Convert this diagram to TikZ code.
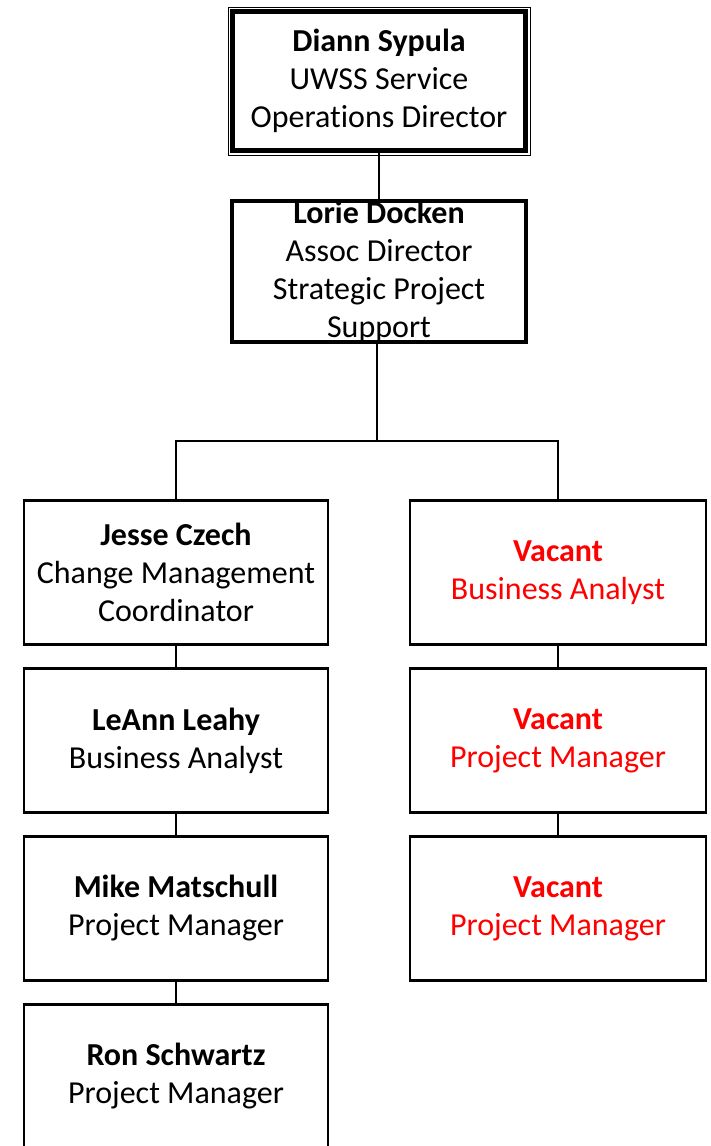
\documentclass[tikz,border=0pt]{standalone}
\usepackage{fontspec}
\setmainfont{Carlito}[Ligatures=NoCommon]
\usepackage{tikz}
\usetikzlibrary{calc}
\usetikzlibrary{positioning}
\definecolor{vacantred}{RGB}{255,0,0}
\newcommand{\who}[1]{\textbf{#1}}

\begin{document}
\begin{tikzpicture}[x=1pt,y=-1pt,
		person/.style={rectangle,draw,align=center,inner sep=0pt,outer sep=0pt,
			font=\fontsize{32}{38}\selectfont,line width=2.4pt},
		leftbox/.style={person,minimum width=304,minimum height=144},
		rightbox/.style={person,minimum width=296,minimum height=144},
		vacant/.style={rightbox,text=vacantred},
		link/.style={line width=1.8pt}]
				\useasboundingbox (0,0) rectangle (710,1146);
				\path 
				(379,81) node(diann) [person,line width=5pt,minimum width=293,minimum height=139] {\who{Diann Sypula}\\UWSS Service\\Operations Director}
				(379,271.5) node(lorie) [person,line width=4pt,minimum width=294,minimum height=140] {\who{Lorie Docken}\\Assoc Director\\Strategic Project\\Support}
				(176,572.5) node(jesse) [leftbox] {\who{Jesse Czech}\\Change Management\\Coordinator}
				(176,740.5) node(leann) [leftbox] {\who{LeAnn Leahy}\\Business Analyst}
				(176,908.5) node(mike) [leftbox] {\who{Mike Matschull}\\Project Manager}
				(176,1076.5) node(ron) [leftbox] {\who{Ron Schwartz}\\Project Manager}
				(558,572.5) node(vacA) [vacant] {\who{Vacant}\\Business Analyst}
				(558,740.5) node(vacB) [vacant] {\who{Vacant}\\Project Manager}
				(558,908.5) node(vacC) [vacant] {\who{Vacant}\\Project Manager};
				\draw[line width=1pt] ($(diann.north west)+(-4.5,-4.5)$) rectangle ($(diann.south east)+(4.5,4.5)$);
				\coordinate (split) at (377,441);
				\draw[link] (diann) -- (lorie);
				\draw[link] (lorie.south -| split) -- (split) -| (jesse.north);
				\draw[link] (split) -| (vacA.north);
				\draw[link]   
				(jesse) edge (leann) 
				(leann) edge (mike)
				(mike) edge (ron)
				(vacA) edge (vacB)
				(vacB) edge (vacC);
			\end{tikzpicture}
\end{document}
